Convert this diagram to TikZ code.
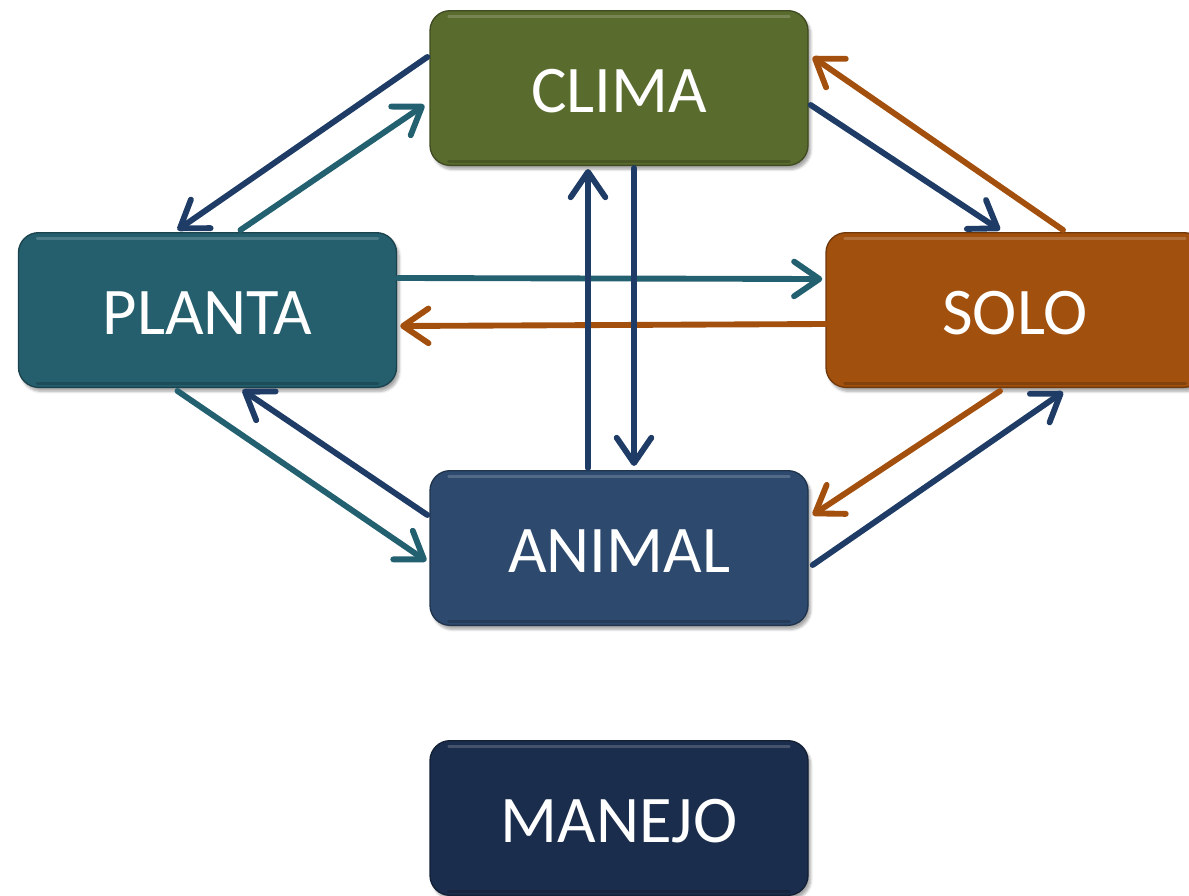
\documentclass[tikz,border=0pt]{standalone}
\usepackage{fontspec}
\setmainfont{Carlito}
\usetikzlibrary{arrows.meta,calc,shadows.blur}

\definecolor{climafill}{HTML}{5A6B2E}
\definecolor{plantafill}{HTML}{255F6E}
\definecolor{solofill}{HTML}{A1500E}
\definecolor{animalfill}{HTML}{2D4A6E}
\definecolor{manejofill}{HTML}{1B2D4C}
\definecolor{navyline}{HTML}{1F3C66}
\definecolor{tealline}{HTML}{236070}
\definecolor{orangeline}{HTML}{A34F0D}

\tikzset{
  box/.style={
    rounded corners=15pt, minimum width=283.5pt, minimum height=116pt,
    inner sep=0pt, text=white, fill=#1, draw=#1!70!black, line width=1pt,
    font=\fontsize{50}{60}\selectfont, text height=37pt, text depth=0pt,
    blur shadow={shadow xshift=2pt, shadow yshift=-3pt, shadow opacity=35,
      shadow blur steps=6},
    path picture={
      \draw[white, opacity=0.18, line width=2pt, line cap=round]
        ([xshift=14pt,yshift=-4.5pt]path picture bounding box.north west) --
        ([xshift=-14pt,yshift=-4.5pt]path picture bounding box.north east);
      \draw[black, opacity=0.18, line width=2.5pt, line cap=round]
        ([xshift=14pt,yshift=3pt]path picture bounding box.south west) --
        ([xshift=-14pt,yshift=3pt]path picture bounding box.south east);
    }
  },
  flow/.style={draw=#1, line width=4.4pt, line cap=round,
    -{Straight Barb[length=19pt, width=26pt, line cap=round, round]}},
}

\begin{document}
\begin{tikzpicture}[x=0.75pt, y=-0.75pt]
  \useasboundingbox (0,0) rectangle (1189,896);

  % the five components
  \node[box=climafill]  (clima)  at (619,88)    {CLIMA};
  \node[box=plantafill] (planta) at (207.5,310) {PLANTA};
  \node[box=solofill]   (solo)   at (1015,310)  {SOLO};
  \node[box=animalfill] (animal) at (619,548)   {ANIMAL};
  \node[box=manejofill] (manejo) at (619,818)   {MANEJO};

  % clima <-> planta
  \draw[flow=navyline]   ($(clima.west)+(-2,-31)$)  -- ($(planta.north)+(-30,-2)$);
  \draw[flow=tealline]   ($(planta.north)+(33,-2)$) -- ($(clima.west)+(-5,17)$);

  % clima <-> solo
  \draw[flow=navyline]   ($(clima.east)+(2,17)$)    -- ($(solo.north)+(-15,-2)$);
  \draw[flow=orangeline] ($(solo.north)+(48,-2)$)   -- ($(clima.east)+(4,-31)$);

  % planta <-> solo
  \draw[flow=tealline]   ($(planta.east)+(1,-32)$)  -- ($(solo.west)+(-3,-31)$);
  \draw[flow=orangeline] ($(solo.west)+(0,14)$)     -- ($(planta.east)+(3,16)$);

  % clima <-> animal
  \draw[flow=navyline]   ($(animal.north)+(-31,-2)$) -- ($(clima.south)+(-31,3)$);
  \draw[flow=navyline]   ($(clima.south)+(15,2)$)    -- ($(animal.north)+(15,-4)$);

  % planta <-> animal
  \draw[flow=tealline]   ($(planta.south)+(-30,3)$) -- ($(animal.west)+(-3,13)$);
  \draw[flow=navyline]   ($(animal.west)+(-2,-33)$) -- ($(planta.south)+(35,2)$);

  % solo <-> animal
  \draw[flow=orangeline] ($(solo.south)+(-15,3)$)   -- ($(animal.east)+(4,-33)$);
  \draw[flow=navyline]   ($(animal.east)+(4,17)$)   -- ($(solo.south)+(48,4)$);
\end{tikzpicture}
\end{document}
